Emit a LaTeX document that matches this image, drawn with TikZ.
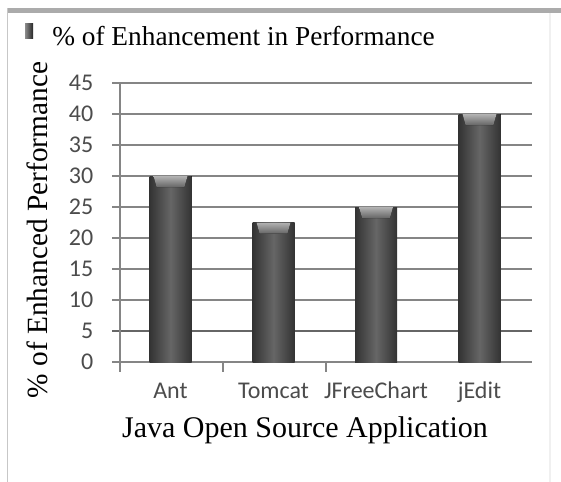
\documentclass[tikz,border=0pt]{standalone}
\usepackage{fontspec}
\setmainfont{Liberation Serif}
\newfontfamily\tickfont{Carlito}
\usepackage{xcolor}

\definecolor{gridgray}{gray}{0.52}
\definecolor{bardark}{gray}{0.2}
\definecolor{barmid}{gray}{0.4}

\begin{document}
\begin{tikzpicture}[x=0.75pt, y=-0.75pt,
        grid/.style={draw=gridgray, line width=1.4pt},
        bar/.style={left color=bardark, right color=bardark, middle color=barmid},
        ticklab/.style={font=\tickfont\fontsize{18}{18}\selectfont, text=black!70}]
        \useasboundingbox (0, 0) rectangle (561, 482);
        \fill[white] (0, 0) rectangle (561, 482);
        % frame
        \draw[black!33, line width=3.5pt] (7, 10.5) -- (561, 10.5);
        \draw[black!22, line width=1.2pt] (7.5, 8) -- (7.5, 482);
        \draw[black!6, line width=0.8pt] (550, 13) -- (550, 482);

        % legend and title
        \fill[left color=black!45, right color=black!85] (25, 23) rectangle (33, 38);
        \node[anchor=base west, inner sep=0pt, font=\fontsize{20.5}{20.5}\selectfont] (title) at (52, 45) {\% of Enhancement in Performance};

        % grid lines and values
        \foreach \v in {0, 5, ..., 45}{
            \draw[grid] (112, {362-6.2*\v}) -- (532, {362-6.2*\v});
            \node[ticklab, anchor=east] (y\v) at (98, {362-6.2*\v}) {\v};
        }
        \draw[grid, line width=2pt, draw=black!60] (112, 331) -- (532, 331);
        \draw[grid] (120, 83) -- (120, 372);
        \draw[grid] (223, 362) -- (223, 372);
        \draw[grid] (326, 362) -- (326, 372);

        % bars
        \foreach \cx/\val/\app in {170.5/30/Ant, 273.5/22.5/Tomcat, 376/25/JFreeChart, 479.5/40/jEdit}{
            \fill[bar] ({\cx-21}, 362) rectangle ({\cx+21}, {362-6.2*\val});
            \fill[top color=black!30, bottom color=barmid]
                ({\cx-17}, {362-6.2*\val}) -- ({\cx+17}, {362-6.2*\val})
                -- ({\cx+14}, {373-6.2*\val}) -- ({\cx-14}, {373-6.2*\val}) -- cycle;
            \node[ticklab, anchor=base] (\app) at (\cx, 398) {\app};
        }

        % axis titles
        \node[rotate=90, font=\fontsize{22}{22}\selectfont] (ylab) at (37, 230) {\% of Enhanced Performance};
        \node[anchor=base, font=\fontsize{22.5}{22.5}\selectfont] (xlab) at (305, 437) {Java Open Source Application};
\end{tikzpicture}
\end{document}
